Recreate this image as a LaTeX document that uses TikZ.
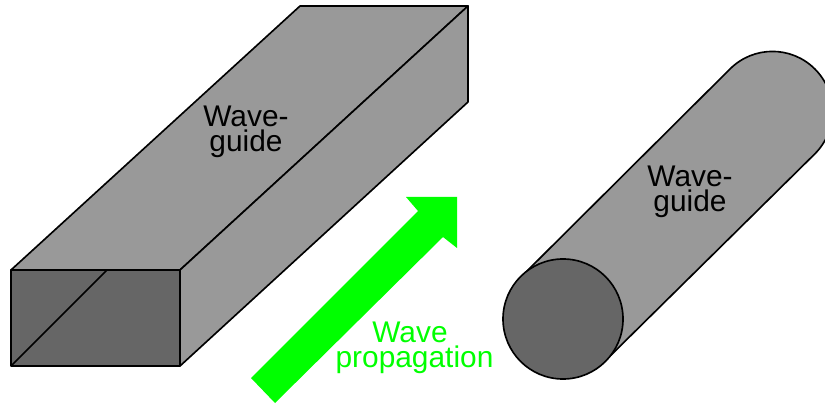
\documentclass[tikz,border=0pt]{standalone}
\usepackage{fontspec}
\setmainfont{Liberation Sans}
\definecolor{faceDark}{HTML}{666666}
\definecolor{faceLight}{HTML}{999999}
\definecolor{waveGreen}{HTML}{00FF00}
\tikzset{
  guideface/.style={draw=black,line width=1.4pt,line join=round,fill=faceLight},
  guidefront/.style={guideface,fill=faceDark},
  guidelabel/.style={align=center,font=\fontsize{25.5}{21.3}\selectfont},
}
\begin{document}
\begin{tikzpicture}[x=0.03cm,y=-0.03cm]
\useasboundingbox (0,0) rectangle (825,404);

\draw[guideface] (11,270) -- (300,6) -- (468,6) -- (180,270) -- cycle;
\draw[guideface] (180,270) -- (468,6) -- (468,102) -- (180,366) -- cycle;
\draw[guidefront] (11,270) rectangle (180,366);
\draw[draw=black,line width=1.4pt] (11,366) -- (107,270);

\draw[guideface] (521,277) -- (730,69) arc (225:405:60) -- (605,361) -- cycle;
\draw[guidefront] (563,319) circle (60);

\fill[waveGreen] (251,378) -- (418,211) -- (406,197) -- (457,197) -- (457,248) -- (443,237) -- (275,403) -- cycle;

\node[guidelabel] (rectlabel) at (246,132) {Wave-\\guide};
\node[guidelabel] (roundlabel) at (690,192) {Wave-\\guide};
\node[guidelabel,text=waveGreen] (wavelabel) at (414.5,348) {Wave\hspace*{0.27cm}\\propagation};
\end{tikzpicture}
\end{document}
